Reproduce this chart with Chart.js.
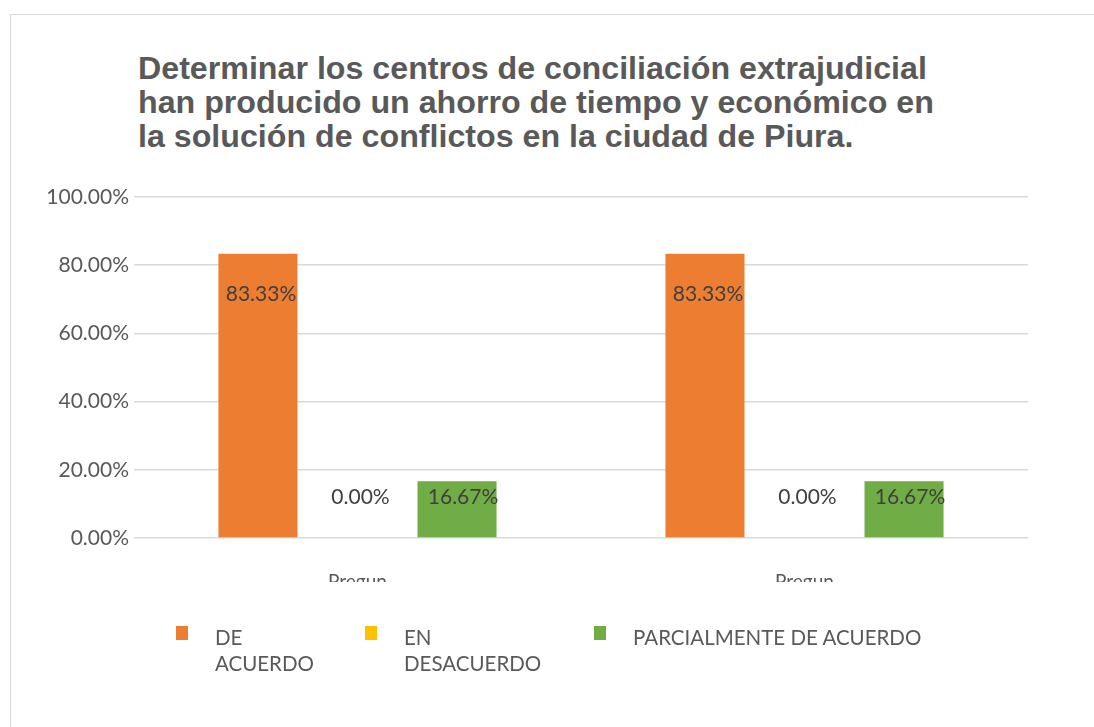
<!DOCTYPE html>
<html>
<head>
<meta charset="utf-8">
<script src="https://cdn.jsdelivr.net/npm/chart.js@4"></script>
<style>
    body { margin: 0; background: #fff; }
    #wrap { position: relative; width: 1094px; height: 727px; overflow: hidden; }
    #frame { position: absolute; left: 10px; top: 14px; width: 1100px; height: 730px; border: 1.5px solid #d9d9d9; }
    #title { position: absolute; left: 138px; top: 52px; margin: 0; font: bold 32.2px 'Liberation Sans', Arial, sans-serif; line-height: 33.8px; color: #595959; }
    canvas { position: absolute; left: 0; top: 0; }
    .leg { position: absolute; top: 626px; font: 20.5px Lato, sans-serif; color: #595959; line-height: 26px; }
    .leg i { position: absolute; left: 0; top: 0; width: 12px; height: 14px; }
    .leg span { position: absolute; left: 39px; top: -2px; white-space: nowrap; }
</style>
</head>
<body>
<div id="wrap">
    <div id="frame"></div>
    <h1 id="title">Determinar los centros de conciliación extrajudicial<br>han producido un ahorro de tiempo y económico en<br>la solución de conflictos en la ciudad de Piura.</h1>
    <canvas id="chart" width="1094" height="727"></canvas>
    <div id="legend"></div>
</div>
<script>
// Datos del gráfico
const categories = ['Pregun', 'Pregun'];
const seriesNames = ['DE ACUERDO', 'EN DESACUERDO', 'PARCIALMENTE DE ACUERDO'];
const deAcuerdo = [83.33, 83.33];
const enDesacuerdo = [0, 0];
const parcialmente = [16.67, 16.67];
const yTicks = [0, 20, 40, 60, 80, 100];

const colors = ['#ed7d31', '#ffc000', '#70ad47'];
const legendText = [['DE', 'ACUERDO'], ['EN', 'DESACUERDO'], ['PARCIALMENTE DE ACUERDO']];
const legendX = [176, 365, 594];

// Leyenda en HTML (etiquetas partidas en dos líneas como en el original)
const legend = document.getElementById('legend');
seriesNames.forEach((name, i) => {
    const d = document.createElement('div');
    d.className = 'leg';
    d.style.left = legendX[i] + 'px';
    d.innerHTML = `<i style="background:${colors[i]}"></i><span>${legendText[i].join('<br>')}</span>`;
    legend.appendChild(d);
});

// Etiquetas de datos + etiquetas del eje X cortadas
const valueLabels = {
    id: 'valueLabels',
    afterDatasetsDraw(chart) {
        const ctx = chart.ctx;
        const base = chart.scales.y.getPixelForValue(0);
        ctx.save();
        ctx.font = '21px Lato, sans-serif';
        ctx.fillStyle = '#404040';
        ctx.textAlign = 'center';
        ctx.textBaseline = 'middle';
        chart.data.datasets.forEach((ds, di) => {
            chart.getDatasetMeta(di).data.forEach((bar, i) => {
                const y = Math.min(bar.y + 40, base - 41);
                ctx.fillText(ds.data[i].toFixed(2) + '%', bar.x + (di === 2 ? 6 : 3), y);
            });
        });
        ctx.restore();
    },
    afterDraw(chart) {
        const ctx = chart.ctx;
        const xs = chart.scales.x;
        ctx.save();
        ctx.beginPath();
        ctx.rect(xs.left - 100, xs.top + 30, xs.width + 200, 14);
        ctx.clip();
        ctx.font = '19px Lato, sans-serif';
        ctx.fillStyle = '#595959';
        ctx.textAlign = 'center';
        ctx.textBaseline = 'top';
        categories.forEach((c, i) => {
            ctx.fillText(c, xs.getPixelForValue(i), xs.top + 34);
        });
        ctx.restore();
    }
};

new Chart(document.getElementById('chart'), {
    type: 'bar',
    data: {
        labels: categories,
        datasets: [
            { label: seriesNames[0], data: deAcuerdo, backgroundColor: colors[0] },
            { label: seriesNames[1], data: enDesacuerdo, backgroundColor: colors[1] },
            { label: seriesNames[2], data: parcialmente, backgroundColor: colors[2] }
        ]
    },
    options: {
        responsive: false,
        animation: false,
        datasets: { bar: { categoryPercentage: 0.668, barPercentage: 0.794 } },
        layout: { padding: { left: 0, top: 197, right: 66, bottom: 149 } },
        plugins: {
            legend: { display: false },
            title: { display: false },
            tooltip: { enabled: false }
        },
        scales: {
            x: {
                grid: { display: false },
                border: { display: false },
                ticks: { display: false },
                afterFit(s) { s.height = 40; }
            },
            y: {
                min: 0,
                max: 100,
                afterBuildTicks(s) { s.ticks = yTicks.map(v => ({ value: v })); },
                grid: { color: '#d9d9d9', lineWidth: 1.5, drawTicks: false },
                border: { display: false },
                ticks: {
                    color: '#595959',
                    font: { family: 'Lato', size: 21 },
                    padding: 5,
                    callback: v => v.toFixed(2) + '%'
                },
                afterFit(s) { s.width = 134; }
            }
        }
    },
    plugins: [valueLabels]
});
</script>
</body>
</html>
